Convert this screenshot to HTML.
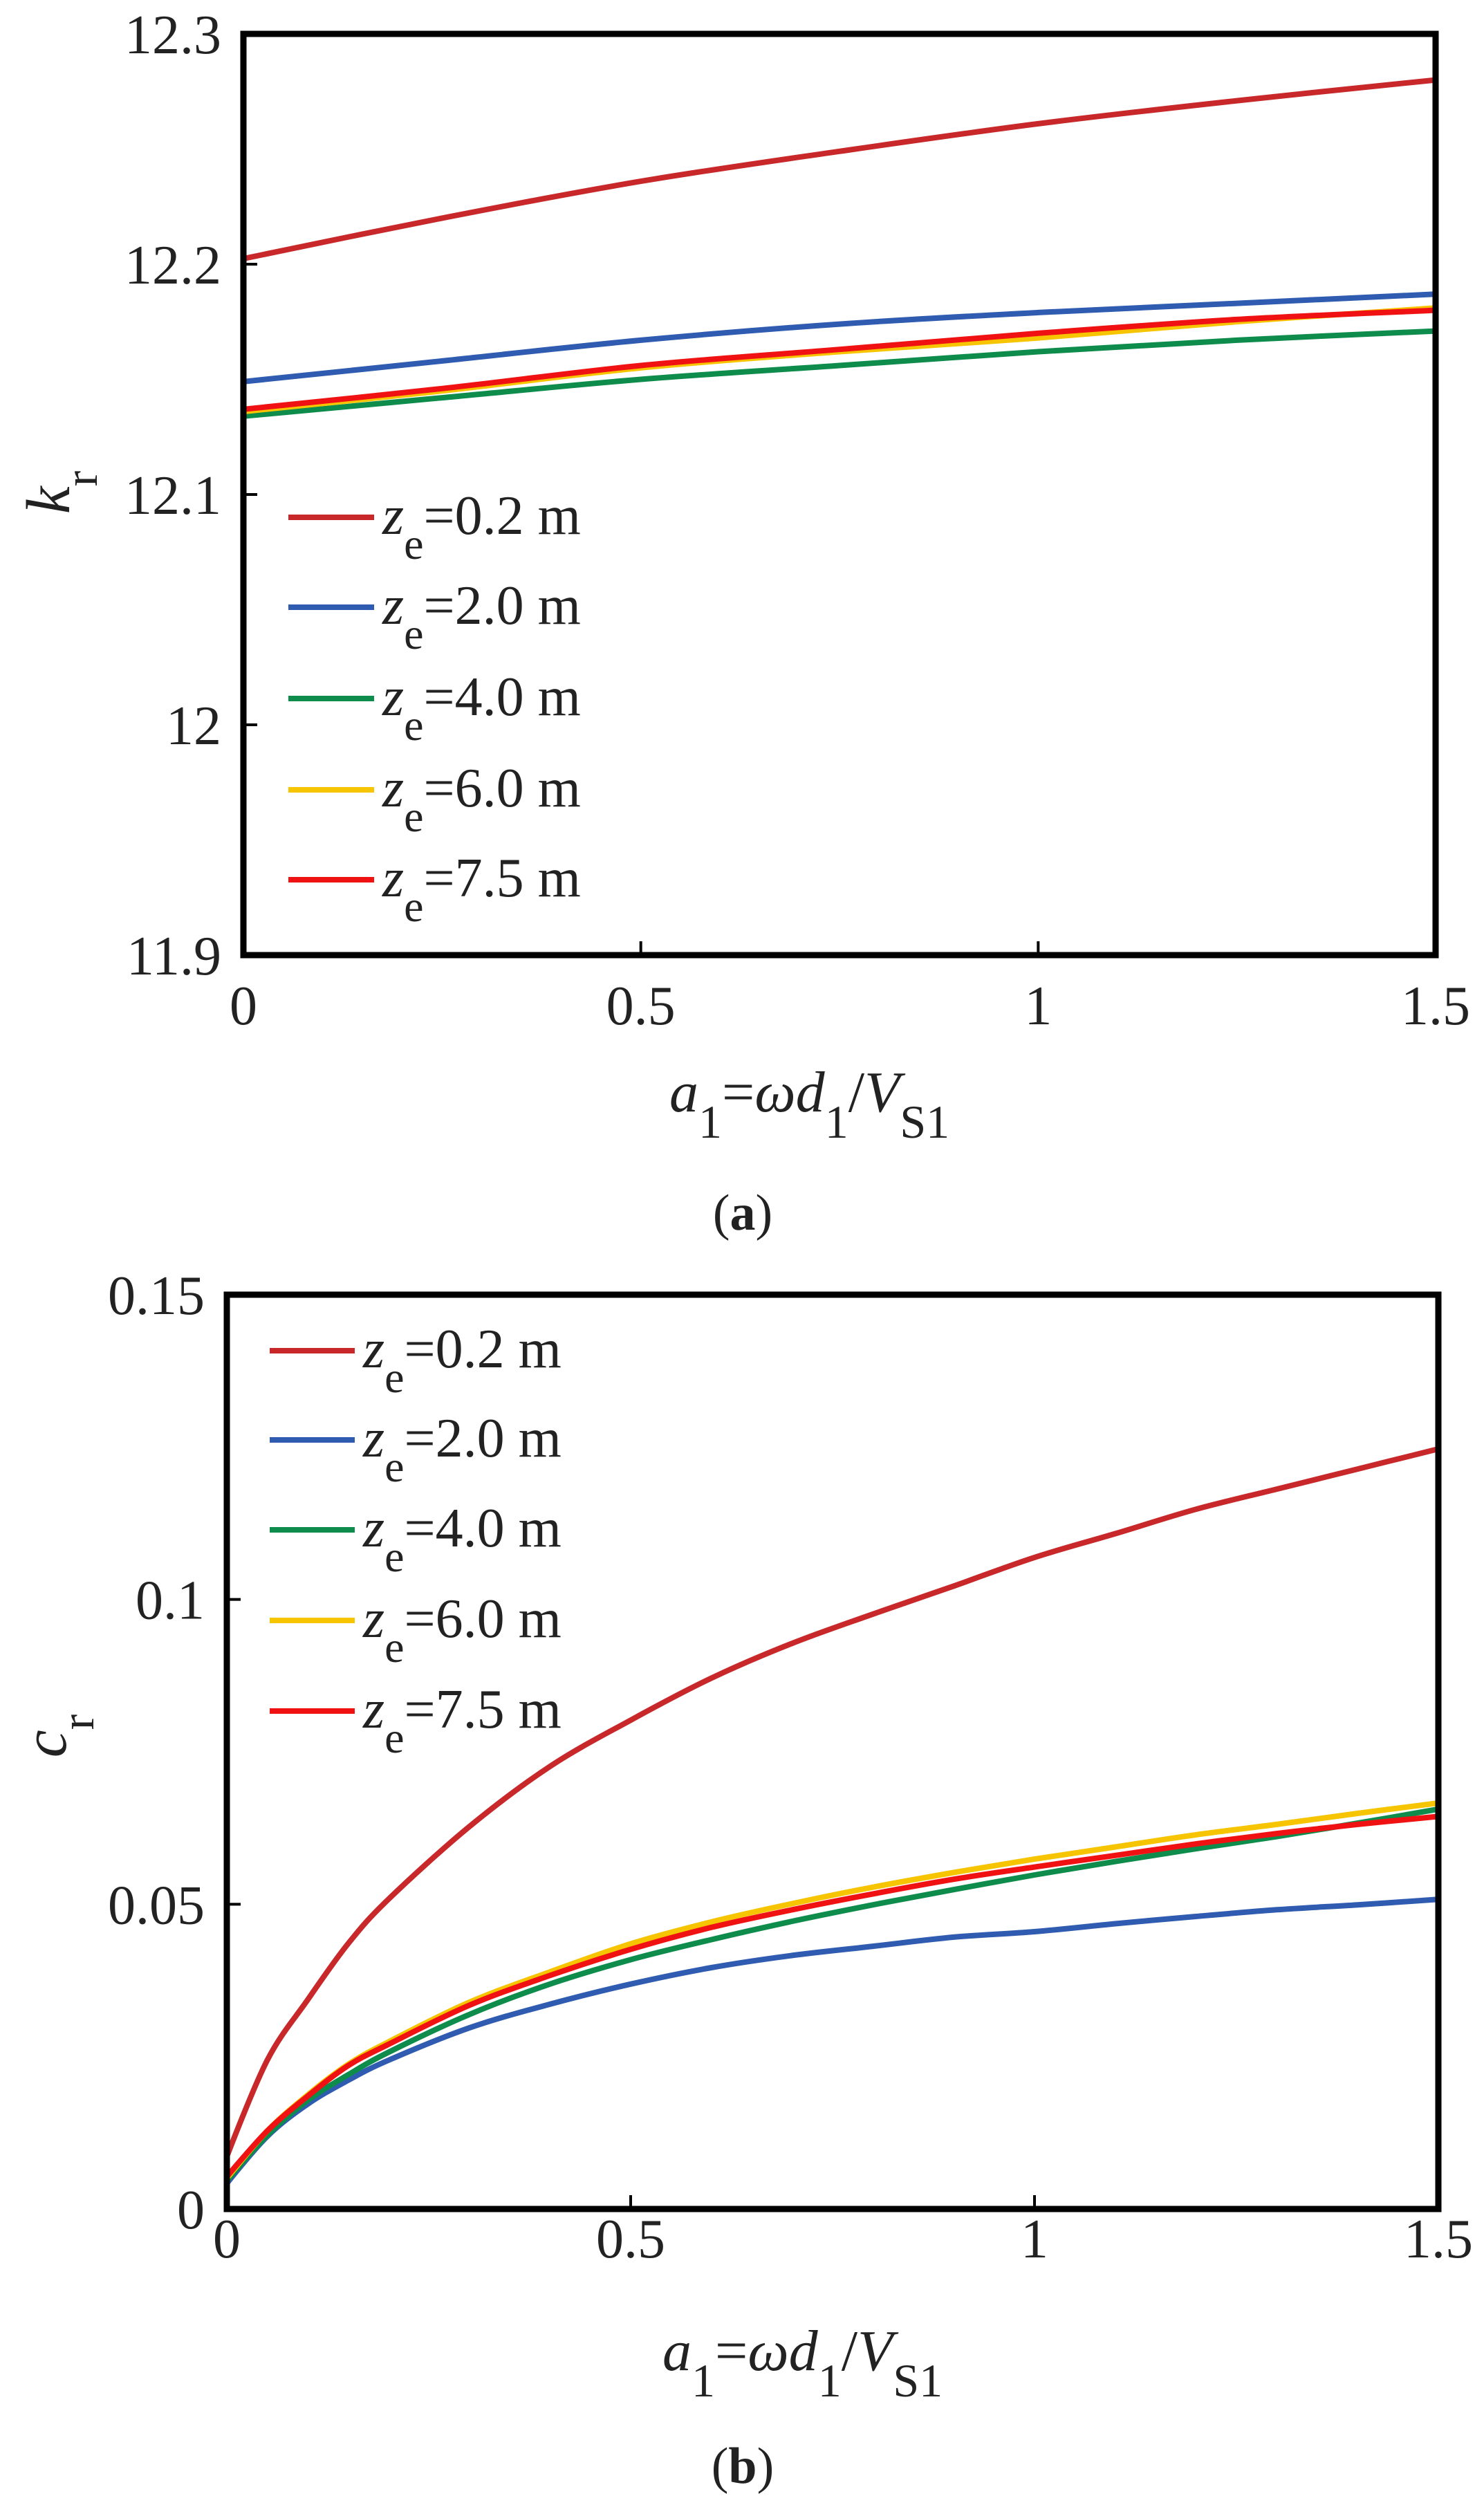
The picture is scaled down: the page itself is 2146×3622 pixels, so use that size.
<!DOCTYPE html>
<html><head><meta charset="utf-8"><style>
html,body{margin:0;padding:0;background:#fff;}
svg{display:block;font-family:"Liberation Serif",serif;}
</style></head><body>
<svg id="fig" width="2146" height="3622" viewBox="0 0 2146 3622" xmlns="http://www.w3.org/2000/svg">
<g id="pa"></g>
<g id="pb"></g>
</svg>
<script>
const xTicks = [0, 0.5, 1, 1.5];
const xTickLabels = ["0", "0.5", "1", "1.5"];
const seriesNames = ["0.2", "2.0", "4.0", "6.0", "7.5"];
const seriesColors = ["#C8282A", "#2F5BB0", "#0E8C4C", "#F7C500", "#F01212"];

const aX = [0, 0.25, 0.5, 0.75, 1.0, 1.25, 1.5];
const aY02 = [12.2024, 12.220, 12.236, 12.249, 12.261, 12.271, 12.280];
const aY20 = [12.149, 12.158, 12.167, 12.174, 12.179, 12.183, 12.187];
const aY40 = [12.134, 12.142, 12.150, 12.156, 12.162, 12.167, 12.171];
const aY60 = [12.136, 12.145, 12.155, 12.162, 12.168, 12.175, 12.181];
const aY75 = [12.137, 12.146, 12.156, 12.163, 12.170, 12.176, 12.180];
const aYTicks = [11.9, 12, 12.1, 12.2, 12.3];
const aYTickLabels = ["11.9", "12", "12.1", "12.2", "12.3"];

const bX = [0, 0.05, 0.1, 0.15, 0.2, 0.3, 0.4, 0.5, 0.6, 0.7, 0.8, 0.9, 1.0, 1.1, 1.2, 1.3, 1.4, 1.5];
const bY02 = [0.0086, 0.0244, 0.0343, 0.0435, 0.0508, 0.0627, 0.0726, 0.0802, 0.0871, 0.0928, 0.0976, 0.1022, 0.1069, 0.1108, 0.1148, 0.1181, 0.1214, 0.1247];
const bY20 = [0.0042, 0.0119, 0.0172, 0.0211, 0.0244, 0.0297, 0.0336, 0.0369, 0.0396, 0.0416, 0.0431, 0.0446, 0.0455, 0.0468, 0.0480, 0.0491, 0.0499, 0.0508];
const bY40 = [0.0046, 0.0121, 0.0178, 0.0220, 0.0257, 0.0319, 0.0369, 0.0409, 0.0442, 0.0472, 0.0499, 0.0524, 0.0548, 0.0570, 0.0591, 0.0611, 0.0633, 0.0656];
const bY60 = [0.0050, 0.0128, 0.0187, 0.0237, 0.0274, 0.0339, 0.0389, 0.0435, 0.0471, 0.0501, 0.0528, 0.0552, 0.0574, 0.0594, 0.0614, 0.0631, 0.0649, 0.0666];
const bY75 = [0.0053, 0.0128, 0.0185, 0.0235, 0.0270, 0.0334, 0.0383, 0.0426, 0.0462, 0.0491, 0.0517, 0.0541, 0.0561, 0.0580, 0.0599, 0.0616, 0.0631, 0.0644];
const bYTicks = [0, 0.05, 0.1, 0.15];
const bYTickLabels = ["0", "0.05", "0.1", "0.15"];

const NS = "http://www.w3.org/2000/svg";
function mk(parent, tag, attrs, text){
  const e = document.createElementNS(NS, tag);
  for (const k in attrs) e.setAttribute(k, attrs[k]);
  if (text !== undefined) e.textContent = text;
  parent.appendChild(e);
  return e;
}
function smooth(pts){
  let d = "M" + pts[0][0].toFixed(1) + "," + pts[0][1].toFixed(1);
  for (let i = 0; i < pts.length - 1; i++){
    const p0 = pts[Math.max(0, i-1)], p1 = pts[i], p2 = pts[i+1], p3 = pts[Math.min(pts.length-1, i+2)];
    const t = (i === 0) ? 0 : 1/6;
    const c1 = [p1[0] + (p2[0]-p0[0])*t, p1[1] + (p2[1]-p0[1])*t];
    const c2 = [p2[0] - (p3[0]-p1[0])/6, p2[1] - (p3[1]-p1[1])/6];
    d += " C" + c1[0].toFixed(1) + "," + c1[1].toFixed(1) + " " + c2[0].toFixed(1) + "," + c2[1].toFixed(1) + " " + p2[0].toFixed(1) + "," + p2[1].toFixed(1);
  }
  return d;
}

function panel(g, cfg){
  const {L,R,T,B,xmin,xmax,ymin,ymax} = cfg;
  const sx = v => L + (v - xmin) / (xmax - xmin) * (R - L);
  const sy = v => B - (v - ymin) / (ymax - ymin) * (B - T);
  cfg.series.forEach((ys, i) => {
    const pts = cfg.xs.map((x, j) => [sx(x), sy(ys[j])]);
    const p = mk(g, "path", {d:smooth(pts), fill:"none", stroke:seriesColors[i], "stroke-width":8, "stroke-linejoin":"round"});
    
    
  });
  const fr = mk(g, "rect", {x:L, y:T, width:R-L, height:B-T, fill:"none", stroke:"#000", "stroke-width":9});
  
  
  xTicks.forEach((v, i) => {
    const tk = mk(g, "line", {x1:sx(v), x2:sx(v), y1:B, y2:B-20, stroke:"#000", "stroke-width":4});
    
    
    const t = mk(g, "text", {x:sx(v), y:cfg.xLabY, "text-anchor":"middle", "font-size":80, fill:"#222"}, xTickLabels[i]);
    
    
  });
  cfg.yTicks.forEach((v, i) => {
    const tk = mk(g, "line", {x1:L, x2:L+20, y1:sy(v), y2:sy(v), stroke:"#000", "stroke-width":4});
    
    
    const t = mk(g, "text", {x:cfg.yLabX, y:sy(v)+28, "text-anchor":"end", "font-size":80, fill:"#222"}, cfg.yTickLabels[i]);
    
    
  });
  seriesNames.forEach((n, i) => {
    const y = cfg.legY[i];
    const ln = mk(g, "line", {x1:cfg.legX1, x2:cfg.legX2, y1:y, y2:y, stroke:seriesColors[i], "stroke-width":8});
    
    
    const t = mk(g, "text", {x:cfg.legX2+12, y:y+24, "font-size":80, fill:"#222"});
    
    
    mk(t, "tspan", {"font-style":"italic"}, "z");
    mk(t, "tspan", {dy:36, "font-size":64}, "e");
    mk(t, "tspan", {dy:-36}, "=" + n + " m");
  });
  const xl = mk(g, "text", {x:cfg.xTitleX, y:cfg.xTitleY, "font-size":84, fill:"#222"});
  
  
  mk(xl, "tspan", {"font-style":"italic"}, "a");
  mk(xl, "tspan", {dy:38, "font-size":68}, "1");
  mk(xl, "tspan", {dy:-38}, "=");
  mk(xl, "tspan", {"font-style":"italic"}, "ωd");
  mk(xl, "tspan", {dy:38, "font-size":68}, "1");
  mk(xl, "tspan", {dy:-38}, "/");
  mk(xl, "tspan", {"font-style":"italic"}, "V");
  mk(xl, "tspan", {dy:38, "font-size":68}, "S1");
  const yl = mk(g, "text", {x:0, y:0, "font-size":90, fill:"#222", transform:"translate(" + cfg.yTitleX + "," + cfg.yTitleY + ") rotate(-90)", "text-anchor":"middle"});
  
  
  mk(yl, "tspan", {"font-style":"italic"}, cfg.yTitle);
  mk(yl, "tspan", {dy:40, "font-size":68}, "r");
  const cap = mk(g, "text", {x:1074, y:cfg.capY, "text-anchor":"middle", "font-size":74, fill:"#222"});
  
  
  mk(cap, "tspan", {}, "(");
  mk(cap, "tspan", {"font-weight":"bold"}, cfg.capLetter);
  mk(cap, "tspan", {}, ")");
}

panel(document.getElementById("pa"), {
  L:352, R:2076, T:49, B:1381, xmin:0, xmax:1.5, ymin:11.9, ymax:12.3,
  xs:aX, series:[aY02, aY20, aY40, aY60, aY75],
  yTicks:aYTicks, yTickLabels:aYTickLabels, yLabX:320, xLabY:1481,
  legX1:417, legX2:541, legY:[748, 878, 1010, 1142, 1272],
  xTitleX:968, xTitleY:1607, yTitleX:100, yTitleY:712, yTitle:"k",
  capY:1778, capLetter:"a"
});
panel(document.getElementById("pb"), {
  L:328, R:2080, T:1872, B:3194, xmin:0, xmax:1.5, ymin:0, ymax:0.15,
  xs:bX, series:[bY02, bY20, bY40, bY60, bY75],
  yTicks:bYTicks, yTickLabels:bYTickLabels, yLabX:296, xLabY:3264,
  legX1:390, legX2:513, legY:[1953, 2082, 2212, 2343, 2474],
  xTitleX:958, xTitleY:3427, yTitleX:95, yTitleY:2510, yTitle:"c",
  capY:3590, capLetter:"b"
});
</script>
</body></html>
